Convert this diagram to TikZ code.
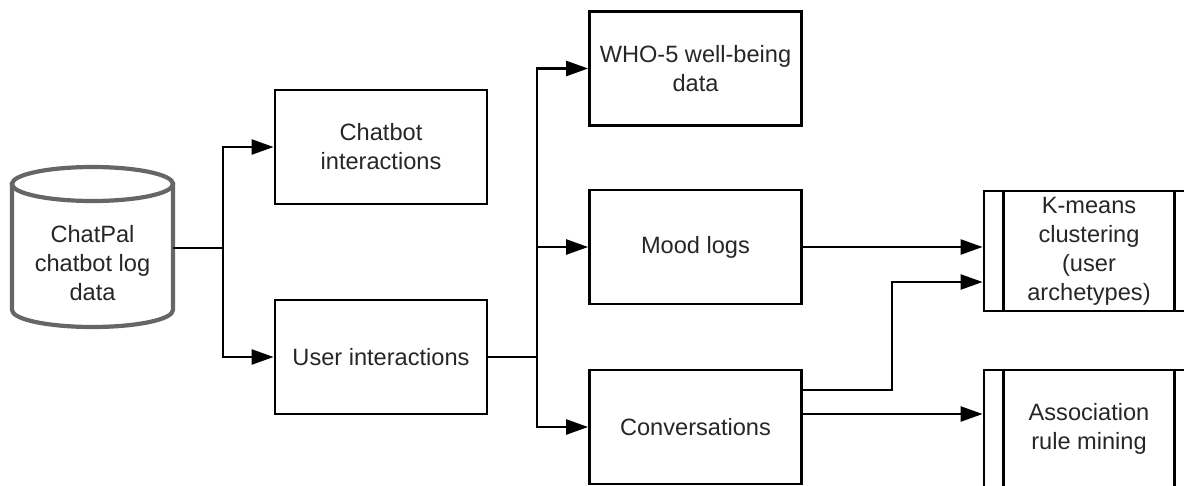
\documentclass[tikz,border=0pt]{standalone}
\usepackage{fontspec}
\setmainfont{Liberation Sans}
\usetikzlibrary{arrows.meta}
\begin{document}
\begin{tikzpicture}[x=1pt,y=-1pt,
  txt/.style={align=center, font=\fontsize{23.6}{29}\selectfont, text=black!85},
  box/.style={txt, draw=black, line width=2.8pt, minimum width=212pt, minimum height=114pt, inner sep=0pt},
  procbox/.style={box, minimum width=210pt},
  conn/.style={draw=black, line width=2.4pt},
  tip/.style={-{Triangle[length=22pt,width=15pt]}},
  cyl/.style={draw=black!60, line width=4.2pt, fill=white}
]
\useasboundingbox (0,0) rectangle (1184,485);
\clip (0,0) rectangle (1184,485);

% cylinder
\path[cyl] (12,184) -- (12,310) arc[start angle=180, end angle=360, x radius=80.5pt, y radius=17pt] -- (173,184) -- cycle;
\path[cyl] (92.5,184) ellipse [x radius=80.5pt, y radius=17pt];
\node[minimum width=161pt, minimum height=160pt, inner sep=0pt] (db) at (92.5,247) {};
\node[txt] (dbtext) at (92.5,263) {ChatPal\\chatbot log\\data};

% boxes
\node[box] (chat) at (381,147) {Chatbot\\interactions};
\node[box] (user) at (381,357) {User interactions};
\node[box] (who) at (695.5,68.5) {WHO-5 well-being\\data};
\node[box] (mood) at (695.5,247) {Mood logs};
\node[box] (conv) at (695.5,427) {Conversations};
\node[procbox, minimum height=120pt] (km) at (1089,251) {K-means\\clustering\\(user\\archetypes)};
\node[procbox, minimum height=117pt] (assoc) at (1089,428.5) {Association\\rule mining};
\foreach \n in {km,assoc}{
  \draw[line width=2.4pt] ([xshift=21pt]\n.north west) -- ([xshift=21pt]\n.south west);
  \draw[line width=2.4pt] ([xshift=-21pt]\n.north east) -- ([xshift=-21pt]\n.south east);
}

% junctions
\coordinate (j1) at (223,248);
\coordinate (j2) at (537,357);
\coordinate (c1) at (802,390);
\coordinate (c1b) at (892,390);
\coordinate (c1c) at (892,282);
\coordinate (c2) at (802,414);

% connectors
\draw[conn] (db.east |- j1) -- (j1);
\draw[conn,tip] (j1) |- (chat.west);
\draw[conn,tip] (j1) |- (user.west);
\draw[conn] (user.east) -- (j2);
\draw[conn,tip] (j2) |- (who.west);
\draw[conn,tip] (j2) |- (mood.west);
\draw[conn,tip] (j2) |- (conv.west);
\draw[conn,tip] (mood.east) -- (mood.east -| km.west);
\draw[conn,tip] (c1) -- (c1b) -- (c1c) -- (c1c -| km.west);
\draw[conn,tip] (c2) -- (c2 -| assoc.west);
\end{tikzpicture}
\end{document}
